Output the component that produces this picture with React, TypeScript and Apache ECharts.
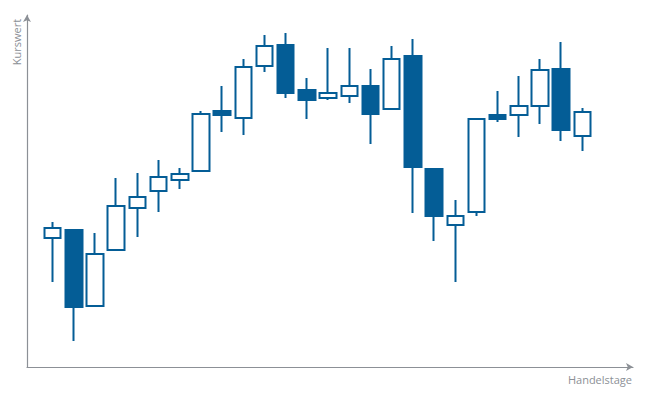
import { useRef, useEffect } from 'react'
import * as echarts from 'echarts'

// one candle per trading day: [open, close, low, high]
const days = Array.from({ length: 26 }, (_, i) => `T${i + 1}`)
const opens = [129, 137, 61, 117, 159, 176, 187, 196, 256, 249, 301, 322, 277, 269, 271, 281, 258, 311, 198, 142, 155, 252, 252, 261, 298, 231]
const closes = [139, 60, 113, 161, 170, 190, 193, 253, 252, 300, 321, 274, 267, 274, 281, 253, 308, 200, 151, 151, 248, 248, 261, 297, 237, 255]
const lows = [85, 26, 61, 117, 130, 155, 178, 196, 235, 232, 295, 269, 248, 267, 264, 223, 258, 154, 126, 85, 151, 245, 230, 243, 226, 216]
const highs = [145, 137, 134, 189, 194, 207, 199, 256, 281, 308, 332, 334, 289, 319, 319, 298, 321, 328, 198, 167, 248, 276, 291, 308, 325, 259]

const yLabel = 'Kurswert'
const xLabel = 'Handelstage'

const BLUE = '#045d96'
const GREY = '#8c9096'

export default function App() {
  const chartRef = useRef<HTMLDivElement>(null)

  useEffect(() => {
    if (!chartRef.current) return
    const chart = echarts.init(chartRef.current, undefined, { renderer: 'svg' })

    const candles = days.map((_, i) => [opens[i], closes[i], lows[i], highs[i]])
    const axisLine = {
      show: true,
      symbol: ['none', 'arrow'],
      symbolSize: [6, 7],
      lineStyle: { color: GREY, width: 1.2 },
    }
    const font = { color: GREY, fontSize: 11, fontFamily: 'Open Sans' }

    chart.setOption({
      animation: false,
      backgroundColor: '#fff',
      grid: [
        { left: 27, right: 17, top: 15, bottom: 33 },
        { left: 42, right: 57, top: 15, bottom: 33 },
      ],
      xAxis: [
        { type: 'value', gridIndex: 0, min: 0, max: 1, axisLine, axisTick: { show: false }, axisLabel: { show: false }, splitLine: { show: false } },
        { type: 'category', gridIndex: 1, data: days, show: false, boundaryGap: true },
      ],
      yAxis: [
        { type: 'value', gridIndex: 0, min: 0, max: 352, axisLine, axisTick: { show: false }, axisLabel: { show: false }, splitLine: { show: false } },
        { type: 'value', gridIndex: 1, min: 0, max: 352, show: false },
      ],
      graphic: [
        { type: 'text', x: 16, y: 42, rotation: Math.PI / 2, style: { text: yLabel, align: 'center', verticalAlign: 'middle', fill: font.color, fontSize: font.fontSize, fontFamily: font.fontFamily } },
        { type: 'text', x: 632, y: 379, style: { text: xLabel, align: 'right', verticalAlign: 'middle', fill: font.color, fontSize: font.fontSize, fontFamily: font.fontFamily } },
      ],
      series: [
        {
          type: 'candlestick',
          xAxisIndex: 1,
          yAxisIndex: 1,
          data: candles,
          barWidth: 17,
          itemStyle: {
            color: '#ffffff',
            color0: BLUE,
            borderColor: BLUE,
            borderColor0: BLUE,
            borderWidth: 2,
          },
        },
      ],
    })

    return () => chart.dispose()
  }, [])

  return <div ref={chartRef} style={{ position: 'fixed', left: 0, top: 0, width: 650, height: 400 }} />
}
